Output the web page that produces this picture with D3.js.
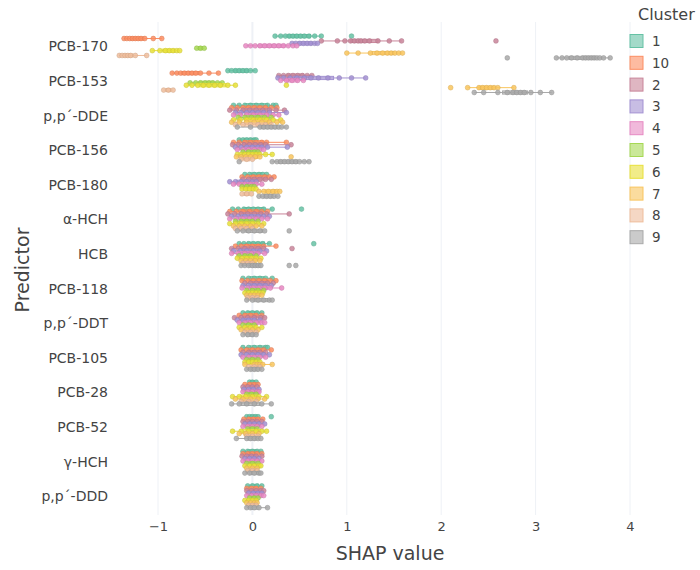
<!DOCTYPE html>
<html>
<head>
<meta charset="utf-8">
<script src="https://cdn.jsdelivr.net/npm/d3@7"></script>
<style>
  body { margin: 0; background: #fff; }
  text { font-family: "DejaVu Sans", Verdana, sans-serif; fill: #444; }
</style>
</head>
<body>
<svg id="chart" width="700" height="570"></svg>
<script>
const predictors = ["PCB-170", "PCB-153", "p,p\u00b4-DDE", "PCB-156", "PCB-180", "\u03b1-HCH", "HCB",
  "PCB-118", "p,p\u00b4-DDT", "PCB-105", "PCB-28", "PCB-52", "\u03b3-HCH", "p,p\u00b4-DDD"];
const clusters = ["1", "10", "2", "3", "4", "5", "6", "7", "8", "9"];
const clusterColors = ["#66c2a5", "#fc8d62", "#c9859a", "#a391d2", "#e78ac3", "#a6d854", "#e8e03a", "#f9c55e", "#efbd9c", "#a9a9a9"];
const xTicks = [-1, 0, 1, 2, 3, 4];

// SHAP values per predictor, one list per cluster in the order of `clusters`
const pcb170 = [
  [0.24, 0.3, 0.35, 0.39, 0.43, 0.47, 0.51, 0.55, 0.6, 0.66, 0.73, 1.05],
  [-1.36, -1.33, -1.3, -1.27, -1.24, -1.21, -1.18, -1.14, -1.05, -0.96],
  [0.73, 0.9, 0.98, 1.04, 1.08, 1.12, 1.15, 1.19, 1.24, 1.33, 1.45, 1.58, 2.58],
  [0.42, 0.46, 0.5, 0.54, 0.58, 0.62, 0.66, 0.69],
  [-0.07, -0.02, 0.03, 0.08, 0.13, 0.18, 0.23, 0.28, 0.33, 0.38, 0.43, 0.47],
  [-0.59, -0.55, -0.51],
  [-1.06, -0.98, -0.92, -0.88, -0.84, -0.8, -0.77],
  [1.0, 1.12, 1.25, 1.32, 1.38, 1.43, 1.47, 1.51, 1.55, 1.59],
  [-1.41, -1.38, -1.35, -1.32, -1.29, -1.24, -1.12],
  [2.7, 3.22, 3.28, 3.33, 3.38, 3.44, 3.5, 3.53, 3.56, 3.59, 3.62, 3.65, 3.68, 3.72, 3.79]
];
const pcb153 = [
  [-0.26, -0.22, -0.18, -0.14, -0.1, -0.06, -0.02, 0.03],
  [-0.85, -0.8, -0.76, -0.72, -0.68, -0.64, -0.6, -0.55, -0.46, -0.36],
  [0.28, 0.33, 0.38, 0.43, 0.48, 0.53, 0.58, 0.63],
  [0.27, 0.33, 0.4, 0.47, 0.55, 0.62, 0.7, 0.8, 0.92, 1.05, 1.2],
  [0.3, 0.36, 0.42, 0.48, 0.54],
  [-0.66, -0.6, -0.55, -0.5, -0.46, -0.42, -0.37, -0.32],
  [-0.7, -0.64, -0.58, -0.52, -0.46, -0.4, -0.34, -0.26, -0.18, 0.36],
  [2.1, 2.28, 2.4, 2.44, 2.48, 2.52, 2.56, 2.6, 2.77],
  [-0.94, -0.89, -0.84],
  [2.35, 2.45, 2.6, 2.7, 2.76, 2.8, 2.84, 2.88, 2.95, 3.05, 3.17]
];
const ppDDE = [
  [-0.2, -0.14, -0.08, -0.02, 0.04, 0.1, 0.16, 0.22, 0.25],
  [-0.22, -0.16, -0.1, -0.04, 0.02, 0.08, 0.14, 0.2, 0.26],
  [-0.24, -0.17, -0.1, -0.03, 0.04, 0.11, 0.18, 0.25, 0.34],
  [-0.18, -0.12, -0.06, 0, 0.06, 0.12, 0.18, 0.36],
  [-0.2, -0.13, -0.06, 0.01, 0.08, 0.15, 0.22, 0.28],
  [-0.15, -0.08, -0.01, 0.06, 0.13, 0.2],
  [-0.2, -0.13, -0.06, 0.01, 0.08, 0.15, 0.22, 0.3],
  [-0.22, -0.14, -0.06, 0.02, 0.1, 0.18, 0.26, 0.32],
  [-0.18, -0.1, -0.02, 0.06, 0.14, 0.2],
  [-0.16, -0.02, 0.08, 0.12, 0.16, 0.2, 0.24, 0.28, 0.31, 0.36]
];
const pcb156 = [
  [-0.14, -0.1, -0.06, -0.02, 0.02, 0.04],
  [-0.2, -0.14, -0.08, -0.02, 0.04, 0.1, 0.15, 0.36],
  [-0.21, -0.15, -0.09, -0.03, 0.03, 0.09, 0.14, 0.41],
  [-0.18, -0.12, -0.06, 0, 0.06, 0.1, 0.16, 0.37],
  [-0.16, -0.1, -0.04, 0.02, 0.08, 0.12],
  [-0.1, -0.04, 0.02, 0.06],
  [-0.16, -0.12, -0.08, -0.04, 0, 0.04, 0.08, 0.14, 0.21],
  [-0.17, -0.12, -0.07, -0.02, 0.03, 0.08, 0.41],
  [-0.12, -0.06, 0],
  [-0.14, 0.21, 0.26, 0.3, 0.34, 0.38, 0.42, 0.46, 0.5, 0.55, 0.6]
];
const pcb180 = [
  [-0.08, -0.03, 0.02, 0.07, 0.11, 0.15],
  [-0.11, -0.05, 0.01, 0.07, 0.13, 0.18, 0.23],
  [-0.1, -0.04, 0.02, 0.08, 0.14, 0.2],
  [-0.24, -0.18, -0.12, -0.06, 0, 0.04],
  [-0.2, -0.14, -0.08, -0.02, 0.04, 0.1],
  [-0.11, -0.06, -0.01, 0.02],
  [-0.11, -0.07, -0.03, 0.01, 0.04],
  [0.07, 0.12, 0.17, 0.22, 0.26, 0.29],
  [-0.11, -0.06, -0.01],
  [0.07, 0.11, 0.15, 0.19, 0.23, 0.27]
];
const alphaHCH = [
  [-0.21, -0.15, -0.09, -0.04, 0.01, 0.06, 0.12, 0.21, 0.52],
  [-0.24, -0.17, -0.1, -0.03, 0.04, 0.1, 0.16],
  [-0.26, -0.19, -0.12, -0.05, 0.02, 0.09, 0.15, 0.39],
  [-0.22, -0.15, -0.08, -0.01, 0.06, 0.12, 0.18],
  [-0.24, -0.17, -0.1, -0.03, 0.04, 0.1, 0.16],
  [-0.18, -0.12, -0.06, 0, 0.06],
  [-0.24, -0.18, -0.12, -0.06, 0, 0.06, 0.12],
  [-0.2, -0.14, -0.08, -0.02, 0.04, 0.1],
  [-0.18, -0.12, -0.06, 0],
  [-0.16, -0.1, -0.04, 0.02, 0.08, 0.13, 0.39]
];
const hcb = [
  [-0.14, -0.09, -0.04, 0.01, 0.06, 0.11, 0.18, 0.65],
  [-0.18, -0.12, -0.06, 0, 0.06, 0.12, 0.25],
  [-0.22, -0.15, -0.08, -0.01, 0.06, 0.12, 0.42],
  [-0.2, -0.13, -0.06, 0.01, 0.08, 0.15],
  [-0.22, -0.15, -0.08, -0.01, 0.06, 0.13],
  [-0.14, -0.08, -0.02, 0.04],
  [-0.16, -0.11, -0.06, -0.01, 0.04, 0.09],
  [-0.12, -0.07, -0.02, 0.03, 0.08],
  [-0.1, -0.05, 0],
  [-0.12, -0.08, -0.04, 0, 0.03, 0.06, 0.09, 0.39, 0.46]
];
const pcb118 = [
  [-0.1, -0.04, 0.02, 0.08, 0.14, 0.21],
  [-0.11, -0.05, 0.01, 0.07, 0.13, 0.19, 0.25],
  [-0.08, -0.02, 0.04, 0.1, 0.16, 0.22],
  [-0.1, -0.04, 0.02, 0.08, 0.14, 0.2],
  [-0.11, -0.05, 0.01, 0.07, 0.13, 0.19, 0.31],
  [-0.06, 0, 0.06, 0.12],
  [-0.08, -0.04, 0, 0.04, 0.08, 0.11],
  [-0.06, -0.02, 0.02, 0.06, 0.1],
  [-0.05, 0, 0.05],
  [-0.06, 0, 0.06, 0.12, 0.18, 0.21]
];
const ppDDT = [
  [-0.1, -0.05, 0, 0.05, 0.1],
  [-0.14, -0.08, -0.02, 0.04, 0.1],
  [-0.19, -0.12, -0.05, 0.02, 0.09, 0.13],
  [-0.16, -0.1, -0.04, 0.02, 0.08],
  [-0.14, -0.08, -0.02, 0.04, 0.1, 0.13],
  [-0.1, -0.04, 0.02],
  [-0.14, -0.08, -0.02, 0.04, 0.1],
  [-0.12, -0.06, 0, 0.06],
  [-0.08, -0.02, 0.04],
  [-0.1, -0.05, 0, 0.04]
];
const pcb105 = [
  [-0.1, -0.04, 0.02, 0.08, 0.14, 0.16],
  [-0.12, -0.06, 0, 0.06, 0.12, 0.2],
  [-0.1, -0.04, 0.02, 0.08, 0.14],
  [-0.12, -0.06, 0, 0.06, 0.12, 0.18],
  [-0.1, -0.04, 0.02, 0.08, 0.14],
  [-0.06, 0, 0.06],
  [-0.08, -0.04, 0, 0.04, 0.08],
  [-0.08, 0.02, 0.05, 0.08, 0.11, 0.21],
  [-0.04, 0.02, 0.08],
  [-0.06, -0.02, 0.02, 0.06, 0.1]
];
const pcb28 = [
  [-0.03, 0, 0.04],
  [-0.08, -0.03, 0.02, 0.06],
  [-0.1, -0.05, 0, 0.05],
  [-0.09, -0.04, 0.01, 0.07],
  [-0.1, -0.05, 0, 0.05, 0.07],
  [-0.06, -0.01, 0.04],
  [-0.21, -0.14, -0.07, 0, 0.07, 0.15],
  [-0.18, -0.1, -0.02, 0.06, 0.13],
  [-0.12, -0.04, 0.04],
  [-0.22, -0.14, -0.06, 0.02, 0.1, 0.2]
];
const pcb52 = [
  [-0.06, -0.03, 0, 0.03, 0.06, 0.2],
  [-0.09, -0.04, 0.01, 0.06, 0.11],
  [-0.1, -0.05, 0, 0.05, 0.1],
  [-0.08, -0.03, 0.02, 0.07, 0.13],
  [-0.1, -0.05, 0, 0.05, 0.1],
  [-0.05, 0, 0.05],
  [-0.21, -0.12, -0.04, 0.04, 0.1, 0.15],
  [-0.14, -0.07, 0, 0.07],
  [-0.06, 0, 0.06],
  [-0.17, -0.06, -0.02, 0.02, 0.06, 0.09]
];
const gammaHCH = [
  [-0.1, -0.05, 0, 0.05, 0.09],
  [-0.1, -0.05, 0, 0.05, 0.1],
  [-0.11, -0.06, -0.01, 0.04, 0.1],
  [-0.08, -0.03, 0.02, 0.07],
  [-0.1, -0.05, 0, 0.05, 0.1],
  [-0.06, 0, 0.06],
  [-0.08, -0.03, 0.02, 0.07, 0.09],
  [-0.06, 0, 0.05],
  [-0.05, 0, 0.05],
  [-0.08, -0.03, 0.02, 0.07, 0.09]
];
const ppDDD = [
  [-0.05, 0, 0.05, 0.1],
  [-0.06, -0.01, 0.04, 0.09],
  [-0.06, -0.01, 0.04, 0.09, 0.12],
  [-0.04, 0.01, 0.06, 0.1],
  [-0.06, -0.01, 0.04, 0.09, 0.12],
  [-0.03, 0.02, 0.06],
  [-0.08, -0.04, 0, 0.04],
  [-0.06, -0.02, 0.02, 0.05],
  [-0.04, 0, 0.04],
  [-0.06, -0.02, 0.02, 0.07, 0.16]
];

const shapByPredictor = [pcb170, pcb153, ppDDE, pcb156, pcb180, alphaHCH, hcb,
  pcb118, ppDDT, pcb105, pcb28, pcb52, gammaHCH, ppDDD];

const svg = d3.select("#chart");

const x = d3.scaleLinear().domain([-1, 4]).range([158, 630]);
const y = d3.scaleBand().domain(predictors).range([29.7, 514.1]);
const yInner = d3.scaleBand().domain(clusters).range([-y.bandwidth() * 0.35, y.bandwidth() * 0.35]);
const color = d3.scaleOrdinal().domain(clusters).range(clusterColors);

// vertical grid
svg.append("g")
  .selectAll("line")
  .data(xTicks)
  .join("line")
  .attr("x1", d => x(d)).attr("x2", d => x(d))
  .attr("y1", 22).attr("y2", 515)
  .attr("stroke", "#eef1f6")
  .attr("stroke-width", d => d === 0 ? 2 : 1);

// x axis tick labels
const xAxis = d3.axisBottom(x).tickValues(xTicks).tickSize(0).tickPadding(0)
  .tickFormat(d => d < 0 ? "\u2212" + Math.abs(d) : String(d));
svg.append("g")
  .attr("transform", "translate(0,517)")
  .call(xAxis)
  .call(g => g.select(".domain").remove())
  .call(g => g.selectAll("text").attr("font-size", 13).attr("dy", "1.1em")
    .style("font-family", "'DejaVu Sans', sans-serif").attr("fill", "#444"));

// y axis labels
const yAxis = d3.axisLeft(y).tickSize(0).tickPadding(0);
svg.append("g")
  .attr("transform", "translate(108,0)")
  .call(yAxis)
  .call(g => g.select(".domain").remove())
  .call(g => g.selectAll("text").attr("font-size", 14)
    .style("font-family", "'DejaVu Sans', sans-serif").attr("fill", "#444"));

// axis titles
svg.append("text")
  .attr("x", 390).attr("y", 560)
  .attr("text-anchor", "middle")
  .attr("font-size", 19)
  .text("SHAP value");
svg.append("text")
  .attr("transform", "translate(29,270) rotate(-90)")
  .attr("text-anchor", "middle")
  .attr("font-size", 19)
  .text("Predictor");

// one horizontal box per predictor and cluster, with every point drawn on it
const boxes = [];
shapByPredictor.forEach((rows, pi) => {
  rows.forEach((vals, ci) => {
    const s = vals.slice().sort(d3.ascending);
    const q1 = d3.quantile(s, 0.25), q3 = d3.quantile(s, 0.75), med = d3.quantile(s, 0.5);
    const iqr = q3 - q1;
    const lo = d3.min(s.filter(v => v >= q1 - 1.5 * iqr));
    const hi = d3.max(s.filter(v => v <= q3 + 1.5 * iqr));
    boxes.push({ predictor: predictors[pi], cluster: clusters[ci], values: s, q1, q3, med, lo, hi });
  });
});

const cy = d => y(d.predictor) + y.bandwidth() / 2 + yInner(d.cluster) + yInner.bandwidth() / 2;

const boxG = svg.append("g").selectAll("g").data(boxes).join("g");

boxG.append("line")
  .attr("x1", d => x(d.lo)).attr("x2", d => x(d.hi))
  .attr("y1", cy).attr("y2", cy)
  .attr("stroke", d => color(d.cluster))
  .attr("stroke-width", 1);

boxG.append("rect")
  .attr("x", d => x(d.q1))
  .attr("width", d => Math.max(0.5, x(d.q3) - x(d.q1)))
  .attr("y", d => cy(d) - 1.6)
  .attr("height", 3.2)
  .attr("fill", d => color(d.cluster))
  .attr("fill-opacity", 0.5)
  .attr("stroke", d => color(d.cluster))
  .attr("stroke-width", 1);

boxG.selectAll("circle")
  .data(d => d.values.map(v => ({ v, d })))
  .join("circle")
  .attr("cx", p => x(p.v))
  .attr("cy", p => cy(p.d))
  .attr("r", 2.4)
  .attr("fill", p => color(p.d.cluster))
  .attr("fill-opacity", 0.85)
  .attr("stroke", p => d3.color(color(p.d.cluster)).darker(0.4))
  .attr("stroke-width", 0.5);

// legend
const legend = svg.append("g");
legend.append("text")
  .attr("x", 638).attr("y", 20)
  .attr("font-size", 16)
  .text("Cluster");
const item = legend.selectAll("g.item")
  .data(clusters)
  .join("g")
  .attr("class", "item")
  .attr("transform", (d, i) => `translate(0,${41 + i * 21.8})`);
item.append("rect")
  .attr("x", 630).attr("y", -6.5)
  .attr("width", 13).attr("height", 13)
  .attr("fill", d => color(d)).attr("fill-opacity", 0.6)
  .attr("stroke", d => color(d)).attr("stroke-width", 1);
item.append("text")
  .attr("x", 652).attr("y", 5)
  .attr("font-size", 13.5)
  .text(d => d);
</script>
</body>
</html>
